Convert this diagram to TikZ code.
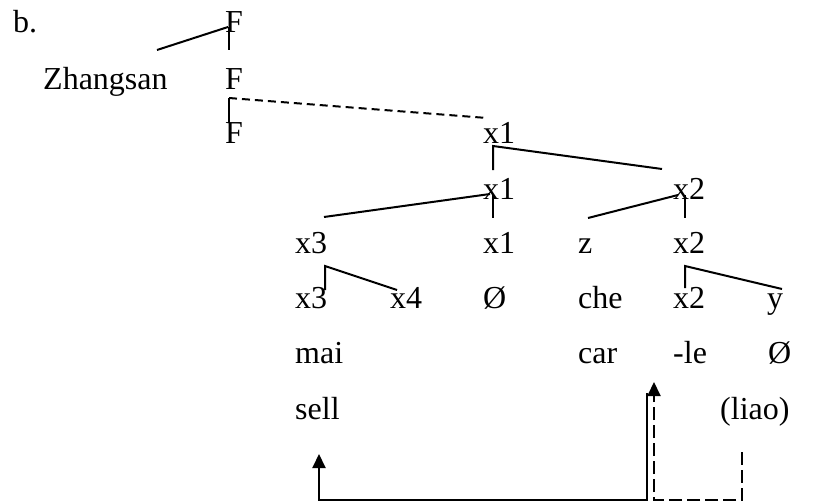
\documentclass[tikz,border=0pt]{standalone}
\usepackage{fontspec}
\setmainfont{Liberation Serif}
\usetikzlibrary{arrows.meta}
\begin{document}
\begin{tikzpicture}[x=1pt,y=-1pt,
  lbl/.style={anchor=base west,inner sep=0pt,font=\fontsize{32}{38}\selectfont},
  branch/.style={line width=2pt},
  movesolid/.style={line width=2pt},
  movedash/.style={line width=2pt,dash pattern=on 13pt off 5pt},
  linkdash/.style={line width=2pt,dash pattern=on 8pt off 5pt},
  tip/.style={-{Triangle[width=13pt,length=14pt]}}]
\useasboundingbox (0,0) rectangle (836,503);
% text
\node[lbl] (b) at (13,33) {b.};
\node[lbl] (F1) at (225,33) {F};
\node[lbl] (Zh) at (43,89) {Zhangsan};
\node[lbl] (F2) at (225,89) {F};
\node[lbl] (F3) at (225,143) {F};
\node[lbl] (x1a) at (483,143) {x1};
\node[lbl] (x1b) at (483,199) {x1};
\node[lbl] (x2a) at (673,199) {x2};
\node[lbl] (x3a) at (295,253) {x3};
\node[lbl] (x1c) at (483,253) {x1};
\node[lbl] (z) at (578,253) {z};
\node[lbl] (x2b) at (673,253) {x2};
\node[lbl] (x3b) at (295,308) {x3};
\node[lbl] (x4) at (390,308) {x4};
\node[lbl] (e1) at (483,308) {Ø};
\node[lbl] (che) at (578,308) {che};
\node[lbl] (x2c) at (673,308) {x2};
\node[lbl] (y) at (767,308) {y};
\node[lbl] (mai) at (295,363) {mai};
\node[lbl] (car) at (578,363) {car};
\node[lbl] (le) at (673,363) {-le};
\node[lbl] (e2) at (768,363) {Ø};
\node[lbl] (sell) at (295,419) {sell};
\node[lbl] (liao) at (720,419) {(liao)};
% branch points
\coordinate (a1) at (157,50); \coordinate (a2) at (228,27);
\coordinate (a3) at (229,27); \coordinate (a4) at (229,50);
\coordinate (b1) at (229,123); \coordinate (b2) at (229,98); \coordinate (b3) at (487,118);
\coordinate (c1) at (493,170); \coordinate (c2) at (493,146); \coordinate (c3) at (662,169);
\coordinate (d1) at (324,217); \coordinate (d2) at (490,194);
\coordinate (d3) at (493,194); \coordinate (d4) at (493,218);
\coordinate (e1a) at (588,218); \coordinate (e2a) at (678,195);
\coordinate (e3a) at (685,195); \coordinate (e4a) at (685,218);
\coordinate (f1) at (325,290); \coordinate (f2) at (325,266); \coordinate (f3) at (397,290);
\coordinate (g1) at (685,288); \coordinate (g2) at (685,266); \coordinate (g3) at (782,289);
\coordinate (h1) at (647,393); \coordinate (h2) at (647,500); \coordinate (h3) at (319,500); \coordinate (h4) at (319,454);
\coordinate (k1) at (742,452); \coordinate (k2) at (742,500); \coordinate (k3) at (654,500); \coordinate (k4) at (654,382);
% connectors
\draw[branch] (a1) -- (a2);
\draw[branch] (a3) -- (a4);
\draw[branch] (b1) -- (b2);
\draw[linkdash] (b2) -- (b3);
\draw[branch] (c1) -- (c2) -- (c3);
\draw[branch] (d1) -- (d2);
\draw[branch] (d3) -- (d4);
\draw[branch] (e1a) -- (e2a);
\draw[branch] (e3a) -- (e4a);
\draw[branch] (f1) -- (f2) -- (f3);
\draw[branch] (g1) -- (g2) -- (g3);
\draw[movesolid,tip] (h1) -- (h2) -- (h3) -- (h4);
\draw[movedash,tip] (k1) -- (k2) -- (k3) -- (k4);
\end{tikzpicture}
\end{document}
